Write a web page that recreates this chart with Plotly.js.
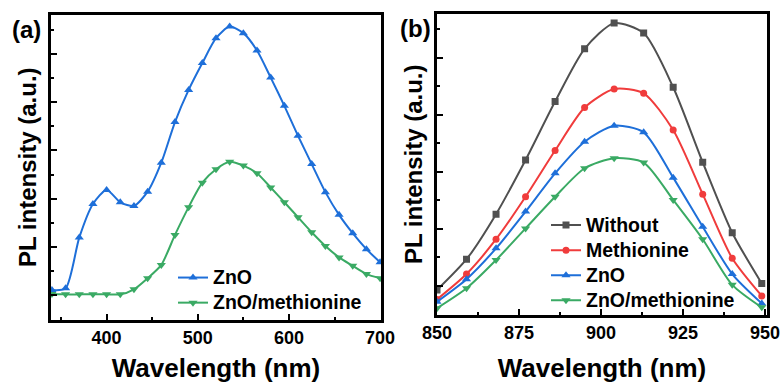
<!DOCTYPE html>
<html>
<head>
<meta charset="utf-8">
<script src="https://cdn.plot.ly/plotly-3.0.1.min.js"></script>
<style>html,body{margin:0;padding:0;background:#fff;}#chart{width:782px;height:383px;}</style>
</head>
<body>
<div id="chart"></div>
<script>
// Panel (a): wavelength (nm) and PL intensity (a.u.)
const wlA = [340, 355, 370, 385, 400, 415, 430, 445, 460, 475, 490, 505, 520, 535, 550, 565, 580, 595, 610, 625, 640, 655, 670, 685, 700];
const znoA = [1.22, 1.29, 3.39, 4.78, 5.36, 4.85, 4.70, 5.29, 6.49, 8.17, 9.50, 10.61, 11.64, 12.12, 11.85, 11.13, 10.01, 8.84, 7.60, 6.43, 5.27, 4.33, 3.57, 2.91, 2.37];
const znoMetA = [1.06, 1.04, 1.04, 1.04, 1.04, 1.04, 1.25, 1.71, 2.26, 3.50, 4.65, 5.66, 6.22, 6.53, 6.37, 6.05, 5.46, 4.85, 4.23, 3.61, 3.04, 2.57, 2.22, 1.88, 1.71];

// Panel (b)
const wlB = [850, 859, 868, 877, 886, 895, 904, 913, 922, 931, 940, 949];
const withoutB = [0.86, 1.94, 3.52, 5.42, 7.47, 9.32, 10.22, 9.87, 7.97, 5.34, 2.87, 1.09];
const methB = [0.53, 1.42, 2.64, 4.13, 5.75, 7.26, 7.91, 7.76, 6.47, 4.22, 1.97, 0.65];
const znoB = [0.45, 1.24, 2.32, 3.61, 4.95, 6.06, 6.62, 6.39, 4.80, 3.08, 1.42, 0.39];
const znoMetB = [0.22, 0.92, 1.91, 3.02, 4.13, 5.13, 5.48, 5.33, 4.02, 2.64, 1.04, 0.25];

const namesA = ['ZnO', 'ZnO/methionine'];
const namesB = ['Without', 'Methionine', 'ZnO', 'ZnO/methionine'];

const C = {gray:'#505050', red:'#f03c3c', blue:'#1e6fd9', green:'#3aaa64'};
const FONT = 'Liberation Sans, Arial, sans-serif';
const big = s => '<span style="font-size:19.5px">' + s + '</span>';

function tr(x, y, name, color, symbol, xa, ya, leg, size) {
  return {
    x: x, y: y, name: big(name), type: 'scatter', mode: 'lines+markers',
    xaxis: xa, yaxis: ya, legend: leg,
    line: {color: color, width: 2, shape: 'spline', smoothing: 0.7},
    marker: {color: color, symbol: symbol, size: size || 8}
  };
}

const data = [
  tr(wlA, znoA, namesA[0], C.blue, 'triangle-up', 'x', 'y', 'legend'),
  tr(wlA, znoMetA, namesA[1], C.green, 'triangle-down', 'x', 'y', 'legend'),
  tr(wlB, withoutB, namesB[0], C.gray, 'square', 'x2', 'y2', 'legend2', 7),
  tr(wlB, methB, namesB[1], C.red, 'circle', 'x2', 'y2', 'legend2', 7),
  tr(wlB, znoB, namesB[2], C.blue, 'triangle-up', 'x2', 'y2', 'legend2'),
  tr(wlB, znoMetB, namesB[3], C.green, 'triangle-down', 'x2', 'y2', 'legend2')
];

const W = 782, H = 383;
function axX(dom, rng, t0, dt, mdt, anchor) {
  return {
    domain: dom, range: rng, anchor: anchor,
    showline: true, mirror: true, linecolor: '#000', linewidth: 3,
    ticks: 'inside', ticklen: 6, tickwidth: 2, tickcolor: '#000',
    tickmode: 'linear', tick0: t0, dtick: dt,
    minor: {ticks: 'inside', ticklen: 3, tickwidth: 2, tickcolor: '#000', dtick: mdt, tick0: t0},
    showgrid: false, zeroline: false,
    tickfont: {family: FONT, size: 18, color: '#000', weight: 700},
    title: {text: 'Wavelength (nm)', font: {family: FONT, size: 26, color: '#000', weight: 700}, standoff: 21}
  };
}
function axY(dom, rng, anchor) {
  return {
    domain: dom, range: rng, anchor: anchor,
    showline: true, mirror: true, linecolor: '#000', linewidth: 3,
    ticks: 'inside', ticklen: 6, tickwidth: 2, tickcolor: '#000',
    tickmode: 'linear', tick0: 1, dtick: 2, showticklabels: false,
    minor: {ticks: 'inside', ticklen: 3, tickwidth: 2, tickcolor: '#000', dtick: 1, tick0: 0},
    showgrid: false, zeroline: false,
    title: {text: 'PL intensity (a.u.)', font: {family: FONT, size: 24, color: '#000', weight: 700}, standoff: 5}
  };
}

const layout = {
  width: W, height: H,
  margin: {l: 0, r: 0, t: 0, b: 0},
  paper_bgcolor: '#fff', plot_bgcolor: '#fff',
  showlegend: true,
  xaxis: axX([51/W, 381/W], [339, 701], 400, 100, 50, 'y'),
  yaxis: axY([(H-319.5)/H, (H-15)/H], [0, 12.6], 'x'),
  xaxis2: axX([437/W, 767/W], [850, 950.6], 850, 25, 12.5, 'y2'),
  yaxis2: axY([(H-314.5)/H, (H-14)/H], [0, 10.54], 'x2'),
  legend: {x: 173/W, y: 1 - 260/H, xanchor: 'left', yanchor: 'top', bgcolor: 'rgba(0,0,0,0)',
           font: {family: FONT, size: 17, color: '#000', weight: 700}, tracegroupgap: 0},
  legend2: {x: 546/W, y: 1 - 207.5/H, xanchor: 'left', yanchor: 'top', bgcolor: 'rgba(0,0,0,0)',
           font: {family: FONT, size: 17, color: '#000', weight: 700}, tracegroupgap: 0},
  annotations: [
    {text: '(a)', xref: 'paper', yref: 'paper', x: 27/W, y: 1 - 29/H, xanchor: 'center', yanchor: 'middle', showarrow: false,
     font: {family: FONT, size: 24, color: '#000', weight: 700}},
    {text: '(b)', xref: 'paper', yref: 'paper', x: 415/W, y: 1 - 28/H, xanchor: 'center', yanchor: 'middle', showarrow: false,
     font: {family: FONT, size: 24, color: '#000', weight: 700}}
  ]
};

Plotly.newPlot('chart', data, layout, {displayModeBar: false, staticPlot: true});
</script>
</body>
</html>
